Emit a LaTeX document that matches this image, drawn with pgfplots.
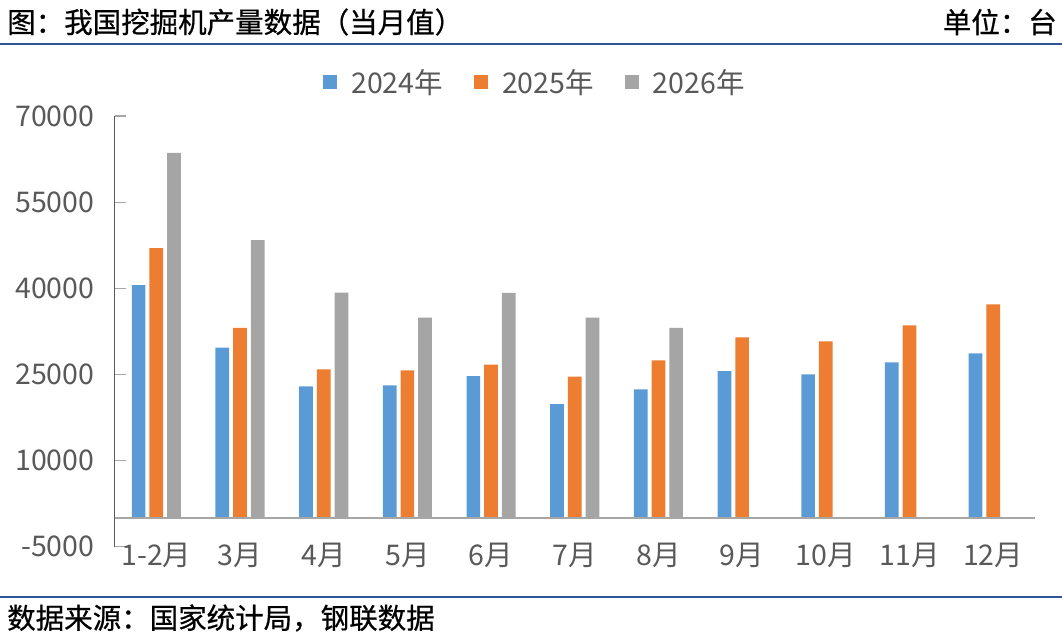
\documentclass[border=0pt]{standalone}
\usepackage{pgfplots}
\pgfplotsset{compat=1.18}
\usepackage{fontspec}
\setmainfont{Noto Sans CJK SC}
\newfontfamily\headfont{Noto Sans CJK SC}[FakeBold=0.6]

\definecolor{c24}{HTML}{5B9BD5}
\definecolor{c25}{HTML}{ED7D31}
\definecolor{c26}{HTML}{A5A5A5}
\definecolor{txtgrey}{HTML}{595959}
\definecolor{tickgrey}{HTML}{A6A6A6}
\definecolor{rulecol}{HTML}{2F5597}

\begin{document}
\begin{tikzpicture}
\path[use as bounding box] (0pt,0pt) rectangle (1062pt,-641pt);
% header and footer
\node[anchor=west, inner sep=0pt, font=\headfont\fontsize{28.5}{33}\selectfont] at (7pt,-22pt) {图：我国挖掘机产量数据（当月值）};
\node[anchor=east, inner sep=0pt, font=\headfont\fontsize{28.5}{33}\selectfont] at (1057pt,-22pt) {单位：台};
\draw[rulecol, line width=1.3pt] (0pt,-44pt) -- (1062pt,-44pt);
\draw[rulecol, line width=1.3pt] (0pt,-597pt) -- (1062pt,-597pt);
\node[anchor=west, inner sep=0pt, font=\headfont\fontsize{28.5}{33}\selectfont] at (7pt,-618pt) {数据来源：国家统计局，钢联数据};

\begin{axis}[
    at={(114.5pt,-546.5pt)}, anchor=south west,
    scale only axis, width=920.5pt, height=430.5pt,
    xmin=-0.5, xmax=10.5, ymin=-5000, ymax=70000,
    ybar=4pt, bar width=13.7pt,
    xtick={0,...,10},
    xticklabels={1-2月,3月,4月,5月,6月,7月,8月,9月,10月,11月,12月},
    ytick={-5000,10000,25000,40000,55000,70000},
    scaled y ticks=false,
    /pgf/number format/assume math mode=true,
    /pgf/number format/1000 sep={},
    axis x line*=bottom, axis y line*=left,
    x axis line style={draw=none},
    y axis line style={draw=txtgrey, line width=1.2pt, -},
    tick align=inside, major tick length=11pt,
    ytick style={draw=tickgrey, line width=1.2pt},
    xtick style={draw=none},
    ticklabel style={font=\fontsize{28.5}{33}\selectfont, text=txtgrey},
    yticklabel style={inner sep=0pt, xshift=-20pt},
    xticklabel style={inner sep=0pt, anchor=north, yshift=4pt},
    legend columns=3,
    legend style={at={(0.4557,1.079)}, anchor=center, draw=none, fill=none,
        font=\fontsize{28.5}{33}\selectfont, text=txtgrey,
        nodes={inner sep=0pt},
        /tikz/every odd column/.append style={column sep=14pt},
        /tikz/every even column/.append style={column sep=31pt}},
]
\addplot[fill=c24, draw=none, legend image code/.code={\fill[c24] (0pt,-7pt) rectangle (14pt,7pt);}] coordinates {
    (0,40520) (1,29650) (2,22900) (3,23080) (4,24700) (5,19820)
    (6,22380) (7,25570) (8,25000) (9,27090) (10,28660)
};
\addlegendentry{2024年}
\addplot[fill=c25, draw=none, legend image code/.code={\fill[c25] (0pt,-7pt) rectangle (14pt,7pt);}] coordinates {
    (0,46970) (1,33070) (2,25870) (3,25690) (4,26680) (5,24590)
    (6,27440) (7,31450) (8,30750) (9,33540) (10,37200)
};
\addlegendentry{2025年}
\addplot[fill=c26, draw=none, legend image code/.code={\fill[c26] (0pt,-7pt) rectangle (14pt,7pt);}] coordinates {
    (0,63570) (1,48370) (2,39250) (3,34880) (4,39180) (5,34880) (6,33070)
};
\addlegendentry{2026年}
% zero line
\draw[tickgrey, line width=1.5pt] (axis cs:-0.5,0) -- (axis cs:10.5,0);
\end{axis}
\end{tikzpicture}
\end{document}
